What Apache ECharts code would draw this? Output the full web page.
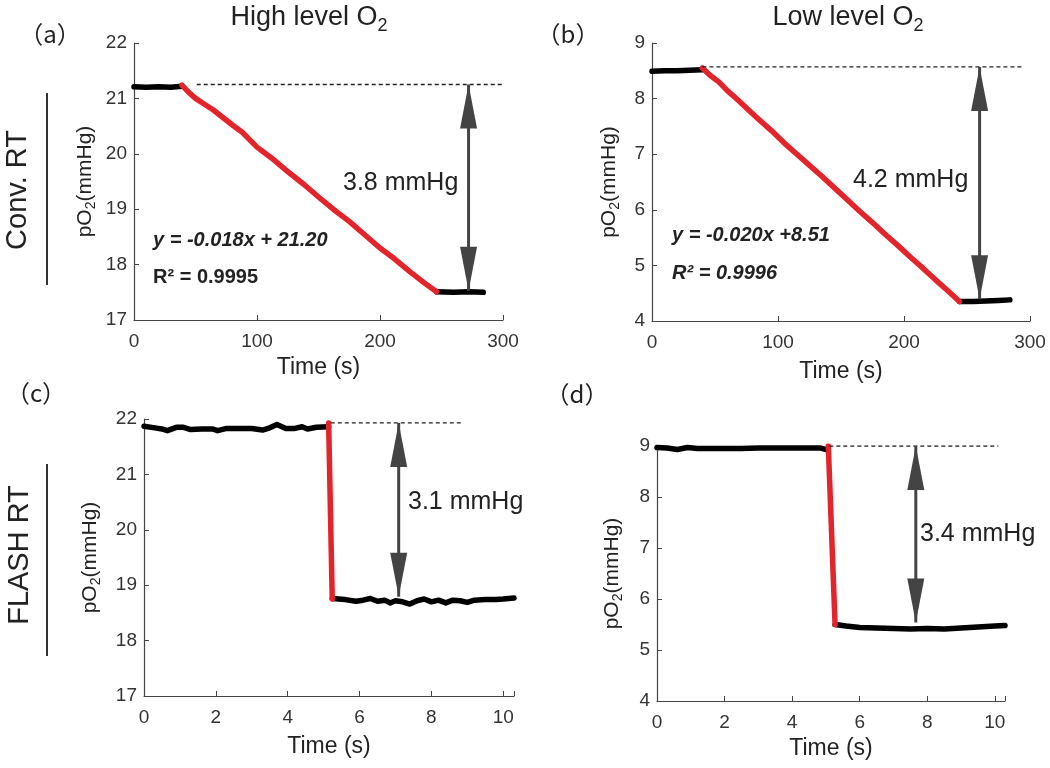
<!DOCTYPE html>
<html>
<head>
<meta charset="utf-8">
<title>pO2 depletion: Conv. RT vs FLASH RT</title>
<script src="https://cdn.jsdelivr.net/npm/echarts@6/dist/echarts.min.js"></script>
<style>
  html, body { margin: 0; padding: 0; background: #fff; }
  #chart { width: 1050px; height: 768px; }
</style>
</head>
<body>
<div id="chart"></div>
<script>
// ---- data ----
// (a) Conv. RT, high level O2
var aBefore = [[0,21.21],[10,21.2],[20,21.21],[30,21.2],[39,21.22]];
var aDrop = [[39,21.24],[44,21.12],[50,21.0],[57,20.9],[64,20.8],[72,20.66],[80,20.52],[88,20.39],[100,20.12],[112,19.92],[125,19.68],[138,19.45],[150,19.22],[162,19.0],[175,18.78],[188,18.53],[200,18.3],[212,18.1],[225,17.86],[236,17.67],[246,17.51]];
var aAfter = [[246,17.51],[260,17.5],[272,17.51],[284,17.5]];
var aRef = [[51,21.25],[300,21.25]];
var aArrow = [[272,21.25],[272,17.53]];

// (b) Conv. RT, low level O2
var bBefore = [[0,8.49],[10,8.5],[20,8.5],[30,8.51],[40,8.52]];
var bDrop = [[40,8.55],[46,8.42],[53,8.3],[60,8.14],[68,7.98],[76,7.81],[85,7.62],[95,7.42],[105,7.2],[115,7.0],[125,6.8],[135,6.6],[145,6.39],[155,6.18],[165,5.97],[175,5.77],[185,5.56],[195,5.36],[205,5.15],[215,4.95],[225,4.74],[235,4.54],[244,4.35]];
var bAfter = [[244,4.35],[255,4.35],[265,4.36],[275,4.37],[284,4.38]];
var bRef = [[40,8.57],[295,8.57]];
var bArrow = [[260,8.57],[260,4.39]];

// (c) FLASH RT, high level O2
var cBefore = [[0,21.87],[0.3,21.84],[0.5,21.82],[0.65,21.79],[0.9,21.85],[1.1,21.85],[1.3,21.81],[1.6,21.82],[1.9,21.82],[2.05,21.79],[2.3,21.83],[2.6,21.83],[3.0,21.83],[3.3,21.8],[3.5,21.84],[3.7,21.9],[3.95,21.83],[4.2,21.83],[4.4,21.86],[4.55,21.82],[4.8,21.85],[5.14,21.86]];
var cDrop = [[5.14,21.93],[5.24,18.75]];
var cAfter = [[5.24,18.76],[5.6,18.74],[5.9,18.71],[6.1,18.73],[6.3,18.76],[6.5,18.71],[6.7,18.73],[6.85,18.68],[7.0,18.72],[7.2,18.7],[7.4,18.66],[7.6,18.72],[7.8,18.75],[8.0,18.7],[8.2,18.73],[8.4,18.68],[8.6,18.73],[8.8,18.72],[9.0,18.69],[9.2,18.73],[9.5,18.74],[9.8,18.74],[10.0,18.75],[10.3,18.77]];
var cRef = [[5.2,21.93],[8.86,21.93]];
var cArrow = [[7.09,21.93],[7.09,18.79]];

// (d) FLASH RT, low level O2
var dBefore = [[0,8.97],[0.3,8.96],[0.6,8.93],[0.9,8.97],[1.2,8.95],[1.6,8.95],[2.0,8.95],[2.5,8.95],[3.0,8.96],[3.5,8.96],[4.0,8.96],[4.5,8.96],[4.85,8.96],[5.07,8.92]];
var dDrop = [[5.07,9.0],[5.27,5.5]];
var dAfter = [[5.27,5.5],[5.6,5.47],[6.0,5.44],[6.5,5.43],[7.0,5.42],[7.5,5.41],[8.0,5.42],[8.5,5.41],[9.0,5.43],[9.5,5.45],[10.0,5.47],[10.3,5.48]];
var dRef = [[5.1,9.0],[10.1,9.0]];
var dArrow = [[7.66,9.0],[7.66,5.54]];

// axis ranges [min, max, interval]
var xRanges = [[0,300,100],[0,300,100],[0,10.3,2],[0,10.3,2]];
var yRanges = [[17,22,1],[4,9,1],[17,22,1],[4,9,1]];

var panelTags = ['（a）','（b）','（c）','（d）'];
var columnTitles = ['High level O','Low level O'];   // subscript 2 added below
var rowTitles = ['Conv. RT','FLASH RT'];
var dropLabels = ['3.8 mmHg','4.2 mmHg','3.1 mmHg','3.4 mmHg'];
var fitLines = ['y = -0.018x + 21.20','y = -0.020x +8.51'];
var fitR2 = ['R² = 0.9995','R² = 0.9996'];

// ---- chart ----
var FONT = "'Liberation Sans', Arial, sans-serif";
var RED = '#e3242b';
var myChart = echarts.init(document.getElementById('chart'));

var grids = [
  {left: 134, top: 43, width: 369, height: 277},
  {left: 652, top: 43, width: 378, height: 278},
  {left: 144, top: 419, width: 370, height: 277},
  {left: 657, top: 446, width: 348, height: 255}
];
var xNameGaps = [36, 39, 39, 36];
var yNameGaps = [36, 30, 41, 32];

var xAxes = xRanges.map(function (r, i) {
  return {
    type: 'value', gridIndex: i, min: r[0], max: r[1], interval: r[2],
    name: 'Time (s)', nameLocation: 'middle', nameGap: xNameGaps[i],
    nameTextStyle: {fontSize: 23, color: '#222', fontFamily: FONT},
    axisLine: {show: true, onZero: false, lineStyle: {color: '#444', width: 1.2}},
    axisTick: {show: true, inside: true, length: 5, lineStyle: {color: '#444'}},
    axisLabel: {
      fontSize: 19, color: '#333', fontFamily: FONT, margin: 12,
      formatter: function (v) { return (Math.abs(v / r[2] - Math.round(v / r[2])) < 1e-6) ? String(v) : ''; }
    },
    splitLine: {show: false}
  };
});

var yAxes = yRanges.map(function (r, i) {
  return {
    type: 'value', gridIndex: i, min: r[0], max: r[1], interval: r[2],
    name: '{n|pO}{s|2}{n|(mmHg)}', nameLocation: 'middle', nameGap: yNameGaps[i],
    nameTextStyle: {
      color: '#222', fontFamily: FONT,
      rich: {
        n: {fontSize: 21, color: '#222', fontFamily: FONT},
        s: {fontSize: 14, color: '#222', fontFamily: FONT, padding: [12, 0, 0, 0]}
      }
    },
    axisLine: {show: true, onZero: false, lineStyle: {color: '#444', width: 1.2}},
    axisTick: {show: true, inside: true, length: 5, lineStyle: {color: '#444'}},
    axisLabel: {fontSize: 19, color: '#333', fontFamily: FONT, margin: 7},
    splitLine: {show: false}
  };
});

var panels = [
  [aBefore, aDrop, aAfter, aRef, aArrow],
  [bBefore, bDrop, bAfter, bRef, bArrow],
  [cBefore, cDrop, cAfter, cRef, cArrow],
  [dBefore, dDrop, dAfter, dRef, dArrow]
];

function trace(i, data, color) {
  return {
    type: 'line', xAxisIndex: i, yAxisIndex: i, data: data,
    symbol: 'none', silent: true, animation: false,
    lineStyle: {color: color, width: 5.5, cap: 'round', join: 'round'}
  };
}

var series = [];
panels.forEach(function (p, i) {
  series.push(trace(i, p[0], '#000'));
  series.push(trace(i, p[2], '#000'));
  series.push(trace(i, p[1], RED));
  series.push({
    type: 'line', xAxisIndex: i, yAxisIndex: i, data: p[3],
    symbol: 'none', silent: true, animation: false,
    lineStyle: {color: '#222', width: 1.4, type: [4, 3]}
  });
  series.push({
    type: 'line', xAxisIndex: i, yAxisIndex: i, silent: true, animation: false,
    showSymbol: true, z: 5,
    data: [
      {value: p[4][0], symbol: 'triangle', symbolSize: [17, 44], symbolOffset: [0, '50%']},
      {value: p[4][1], symbol: 'triangle', symbolSize: [17, 44], symbolRotate: 180, symbolOffset: [0, '-50%']}
    ],
    itemStyle: {color: '#444'},
    lineStyle: {color: '#444', width: 3}
  });
});

function txt(x, y, text, size, opts) {
  opts = opts || {};
  return {
    type: 'text', x: x, y: y, rotation: opts.rotation || 0, silent: true,
    style: {
      text: text, fontSize: size, fontFamily: opts.family || FONT,
      fontWeight: opts.weight || 'normal', fontStyle: opts.style || 'normal',
      fill: '#222', rich: opts.rich,
      align: opts.align || 'center', verticalAlign: 'middle',
      textAlign: opts.align || 'center', textVerticalAlign: 'middle'
    }
  };
}

var titleRich = {
  n: {fontSize: 27, fontFamily: FONT, fill: '#222', color: '#222'},
  s: {fontSize: 18, fontFamily: FONT, fill: '#222', color: '#222', padding: [16, 0, 0, 0]}
};

var CJK = "'Noto Sans CJK SC', 'Liberation Sans', sans-serif";
var graphic = [
  txt(309, 18, '{n|' + columnTitles[0] + '}{s|2}', 27, {rich: titleRich}),
  txt(848, 18, '{n|' + columnTitles[1] + '}{s|2}', 27, {rich: titleRich}),
  txt(50, 34, panelTags[0], 24, {family: CJK}),
  txt(568, 34, panelTags[1], 24, {family: CJK}),
  txt(36, 393, panelTags[2], 24, {family: CJK}),
  txt(577, 394, panelTags[3], 24, {family: CJK}),
  txt(18, 190, rowTitles[0], 29, {rotation: Math.PI / 2}),
  txt(20, 555, rowTitles[1], 29, {rotation: Math.PI / 2}),
  {type: 'line', silent: true, shape: {x1: 47, y1: 93, x2: 47, y2: 285}, style: {stroke: '#333', lineWidth: 2}},
  {type: 'line', silent: true, shape: {x1: 47, y1: 464, x2: 47, y2: 656}, style: {stroke: '#333', lineWidth: 2}},
  txt(343, 183, dropLabels[0], 25, {align: 'left'}),
  txt(853, 180, dropLabels[1], 25, {align: 'left'}),
  txt(408, 502, dropLabels[2], 25, {align: 'left'}),
  txt(920, 534, dropLabels[3], 25, {align: 'left'}),
  txt(153, 240, fitLines[0], 20, {align: 'left', weight: 'bold', style: 'italic'}),
  txt(153, 277, fitR2[0], 20, {align: 'left', weight: 'bold'}),
  txt(672, 235, fitLines[1], 20, {align: 'left', weight: 'bold', style: 'italic'}),
  txt(672, 273, fitR2[1], 20, {align: 'left', weight: 'bold', style: 'italic'})
];

var option = {
  backgroundColor: '#fff',
  animation: false,
  grid: grids.map(function (g) { return Object.assign({outerBoundsMode: 'none', containLabel: false}, g); }),
  xAxis: xAxes,
  yAxis: yAxes,
  series: series,
  graphic: graphic
};

myChart.setOption(option);
</script>
</body>
</html>
